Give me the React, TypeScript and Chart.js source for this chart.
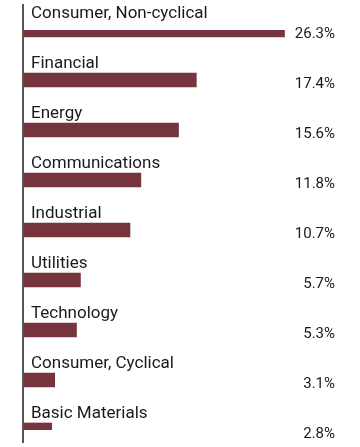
import React, { useEffect, useRef } from "react";
import { Chart, registerables } from "chart.js";

Chart.register(...registerables);

const categories = [
  "Consumer, Non-cyclical",
  "Financial",
  "Energy",
  "Communications",
  "Industrial",
  "Utilities",
  "Technology",
  "Consumer, Cyclical",
  "Basic Materials",
];
const values = [26.3, 17.4, 15.6, 11.8, 10.7, 5.7, 5.3, 3.1, 2.8];
const valueLabels = ["26.3%", "17.4%", "15.6%", "11.8%", "10.7%", "5.7%", "5.3%", "3.1%", "2.8%"];

const BAR_COLOR = "#76353C";
const TEXT_COLOR = "#1a1a1a";
const FONT = "Roboto, 'Noto Sans', sans-serif";

const labelPlugin = {
  id: "rowLabels",
  afterDatasetsDraw(chart: any) {
    const ctx = chart.ctx;
    const area = chart.chartArea;
    const meta = chart.getDatasetMeta(0);
    ctx.save();
    // axis line
    ctx.strokeStyle = "#555555";
    ctx.lineWidth = 2;
    ctx.beginPath();
    ctx.moveTo(23, 4);
    ctx.lineTo(23, 443);
    ctx.stroke();
    ctx.fillStyle = TEXT_COLOR;
    ctx.textBaseline = "alphabetic";
    meta.data.forEach((bar: any, i: number) => {
      ctx.font = `17px ${FONT}`;
      ctx.textAlign = "left";
      ctx.fillText(categories[i], 31, bar.y - 12);
      ctx.font = `15px ${FONT}`;
      ctx.textAlign = "right";
      ctx.fillText(valueLabels[i], area.right, bar.y + 7.5);
    });
    ctx.restore();
  },
};

export default function App() {
  const ref = useRef<HTMLCanvasElement | null>(null);
  useEffect(() => {
    if (!ref.current) return;
    const chart = new Chart(ref.current, {
      type: "bar",
      data: {
        labels: categories,
        datasets: [
          {
            data: values,
            backgroundColor: BAR_COLOR,
            borderWidth: 0,
            barThickness: 14,
          },
        ],
      },
      options: {
        indexAxis: "y",
        responsive: false,
        animation: false,
        layout: { padding: { left: 24, right: 25, top: 30, bottom: 17 } },
        plugins: {
          legend: { display: false },
          tooltip: { enabled: false },
        },
        scales: {
          x: { display: false, min: 0, max: 31.4 },
          y: { display: false, offset: false },
        },
      },
      plugins: [labelPlugin],
    } as any);
    return () => chart.destroy();
  }, []);
  return (
    <div style={{ position: "absolute", left: 0, top: 0, width: 360, height: 447, background: "#fff" }}>
      <canvas ref={ref} width={360} height={447} />
    </div>
  );
}
